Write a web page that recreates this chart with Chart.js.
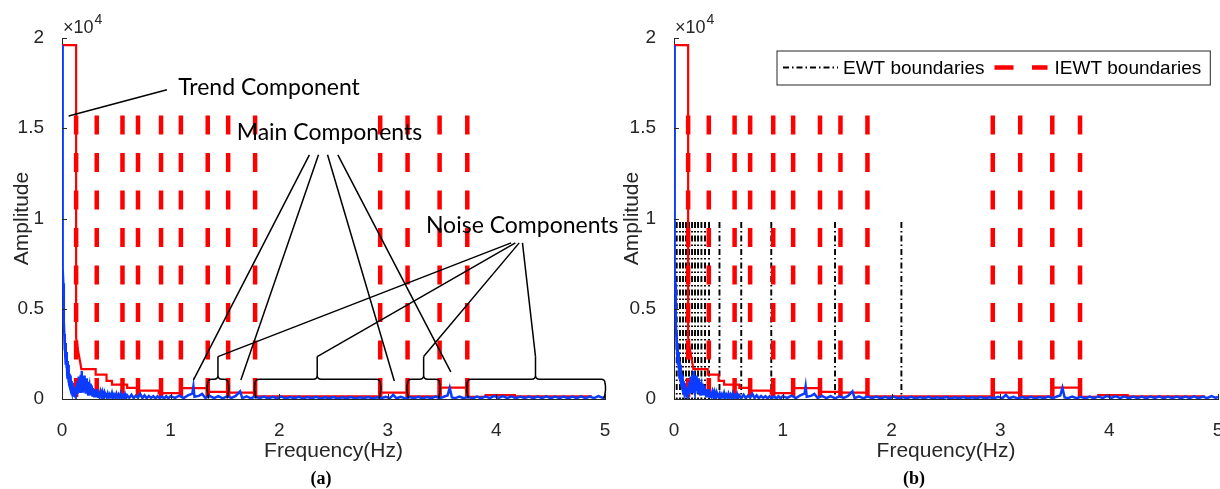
<!DOCTYPE html>
<html>
<head>
<meta charset="utf-8">
<script src="https://cdn.jsdelivr.net/npm/chart.js@4.4.1/dist/chart.umd.min.js"></script>
<style>
  html, body { margin: 0; padding: 0; background: #fff; }
  #wrap { position: relative; width: 1220px; height: 489px; overflow: hidden; }
  .panel { position: absolute; top: 0; height: 489px; }
  #panelA { left: 0; width: 625px; }
  #panelB { left: 610px; width: 610px; }
  .tag { position: absolute; top: 468px; font: bold 18px "Liberation Serif", "Times New Roman", serif; color: #000; transform: translateX(-50%); }
</style>
</head>
<body>
<div id="wrap">
  <div class="panel" id="panelB"><canvas id="chartB"></canvas></div>
  <div class="panel" id="panelA"><canvas id="chartA"></canvas></div>
  <div class="tag" style="left:321px">(a)</div>
  <div class="tag" style="left:914px">(b)</div>
</div>
<script>
// ---- data (frequency in Hz, amplitude raw; axis shows x10^4) ----
const freqTicks = [0, 1, 2, 3, 4, 5];
const ampTicks = [0, 5000, 10000, 15000, 20000];

// blue Fourier spectrum [Hz, amplitude]
const spectrum = [
  [0, 19600], [0.003, 14500], [0.006, 10500], [0.009, 7200], [0.012, 6400], [0.015, 6100],
  [0.018, 4300], [0.021, 3600], [0.024, 2700], [0.027, 3300], [0.030, 2400], [0.033, 3100],
  [0.036, 1900], [0.039, 2600], [0.042, 1700], [0.045, 2300], [0.048, 1300], [0.051, 2100],
  [0.054, 1100], [0.057, 1900], [0.060, 900], [0.063, 1600], [0.066, 800], [0.069, 1400],
  [0.072, 700], [0.075, 1300], [0.078, 550], [0.081, 1150], [0.084, 500], [0.087, 1000],
  [0.090, 400], [0.093, 900], [0.096, 350], [0.100, 800], [0.104, 250], [0.108, 700],
  [0.112, 200], [0.116, 600], [0.120, 150], [0.124, 500], [0.128, 100], [0.132, 350],
  [0.136, 450], [0.140, 900], [0.144, 300], [0.148, 1000], [0.152, 450], [0.156, 1250],
  [0.160, 600], [0.164, 950], [0.168, 400], [0.172, 1350], [0.176, 700], [0.180, 1550],
  [0.184, 500], [0.188, 1100], [0.192, 350], [0.196, 950], [0.200, 600], [0.204, 1300],
  [0.208, 450], [0.212, 1000], [0.216, 300], [0.220, 850], [0.224, 550], [0.228, 1150],
  [0.232, 400], [0.236, 800], [0.240, 250], [0.244, 950], [0.248, 500], [0.252, 700],
  [0.256, 300], [0.260, 850], [0.264, 200], [0.268, 650], [0.272, 400], [0.276, 750],
  [0.280, 200], [0.284, 600], [0.288, 300], [0.292, 550], [0.296, 150], [0.300, 500],
  [0.305, 250], [0.310, 450], [0.315, 150], [0.320, 550], [0.325, 250], [0.330, 400],
  [0.335, 120], [0.340, 380], [0.345, 200], [0.350, 330], [0.355, 100], [0.360, 300],
  [0.365, 180], [0.370, 320], [0.375, 90], [0.380, 260], [0.385, 150], [0.390, 280],
  [0.395, 80], [0.400, 260], [0.41, 110], [0.42, 300], [0.43, 70], [0.44, 250],
  [0.45, 120], [0.46, 330], [0.47, 60], [0.48, 240], [0.49, 100], [0.50, 280],
  [0.51, 50], [0.52, 230], [0.53, 90], [0.54, 300], [0.55, 60], [0.56, 200],
  [0.57, 80], [0.58, 260], [0.59, 40], [0.60, 210], [0.62, 60], [0.64, 230],
  [0.66, 40], [0.68, 190], [0.70, 70], [0.72, 280], [0.74, 50], [0.76, 200],
  [0.78, 40], [0.80, 170], [0.82, 60], [0.84, 160], [0.86, 30], [0.88, 150],
  [0.90, 50], [0.92, 140], [0.94, 30], [0.96, 150], [0.98, 40], [1.00, 160],
  [1.04, 60], [1.08, 180], [1.12, 50], [1.16, 200], [1.20, 300], [1.21, 700],
  [1.22, 120], [1.26, 170], [1.29, 280], [1.32, 60], [1.36, 170], [1.40, 50],
  [1.44, 160], [1.48, 40], [1.52, 150], [1.56, 60], [1.60, 170], [1.64, 420],
  [1.66, 50], [1.70, 150], [1.74, 40], [1.78, 140], [1.82, 50], [1.86, 130],
  [1.90, 30], [1.94, 120], [1.98, 40], [2.02, 130], [2.06, 30], [2.10, 110],
  [2.14, 40], [2.18, 120], [2.22, 30], [2.26, 110], [2.30, 40], [2.34, 120],
  [2.38, 30], [2.42, 100], [2.46, 40], [2.50, 110], [2.54, 30], [2.58, 100],
  [2.62, 40], [2.66, 110], [2.70, 30], [2.74, 100], [2.78, 40], [2.82, 110],
  [2.86, 30], [2.90, 100], [2.94, 40], [2.98, 120], [3.02, 50], [3.05, 230],
  [3.08, 40], [3.12, 120], [3.16, 30], [3.20, 110], [3.24, 40], [3.28, 120],
  [3.32, 30], [3.36, 110], [3.40, 40], [3.44, 130], [3.48, 40], [3.52, 140],
  [3.55, 190], [3.57, 620], [3.59, 90], [3.62, 50], [3.66, 130], [3.70, 40],
  [3.74, 120], [3.78, 30], [3.82, 130], [3.86, 40], [3.90, 150], [3.94, 50],
  [3.98, 170], [4.02, 60], [4.06, 160], [4.10, 50], [4.14, 150], [4.18, 40],
  [4.22, 140], [4.26, 50], [4.30, 130], [4.34, 40], [4.38, 140], [4.42, 50],
  [4.46, 150], [4.50, 40], [4.54, 130], [4.58, 50], [4.62, 140], [4.66, 40],
  [4.70, 130], [4.74, 50], [4.78, 150], [4.82, 40], [4.86, 140], [4.90, 50],
  [4.94, 160], [4.98, 60], [5.00, 120]
];

// red step curve (IEWT band maxima) [Hz, amplitude]
const iewtStep = [
  [0, 19600], [0.13, 19600], [0.13, 3400], [0.15, 2600], [0.17, 1950], [0.178, 1650],
  [0.31, 1650], [0.31, 1350], [0.41, 1350], [0.41, 1000], [0.46, 1000], [0.46, 800],
  [0.60, 800], [0.60, 620], [0.69, 620], [0.69, 460], [0.89, 460], [0.89, 330],
  [1.09, 330], [1.09, 600], [1.34, 600], [1.34, 400], [1.53, 400], [1.53, 350],
  [1.78, 350], [1.78, 150], [2.93, 150], [2.93, 350], [3.18, 350], [3.18, 150],
  [3.475, 150], [3.475, 630], [3.73, 630], [3.73, 120], [3.9, 120], [3.9, 220],
  [4.17, 220], [4.17, 150], [4.88, 150]
];

// boundaries (Hz) and the height of their vertical lines
const iewtBounds = [0.13, 0.32, 0.557, 0.70, 0.912, 1.095, 1.342, 1.53, 1.778, 2.93, 3.182, 3.477, 3.732];
const iewtTop = 15700;
const ewtBounds = [0.025, 0.055, 0.083, 0.11, 0.138, 0.166, 0.193, 0.221, 0.252, 0.285, 0.322, 0.418, 0.618, 0.894, 1.48, 2.09];
const ewtTop = 9800;

// annotations of panel (a), in data units
const trendLine = [[0.061, 15680], [0.966, 17130]];
const mainFrom = [[2.278, 13530], [2.362, 13530], [2.445, 13530], [2.54, 13530]];
const mainTo = [[1.21, 1050], [1.647, 1050], [3.06, 1000], [3.58, 1500]];
const noiseFrom = [[4.136, 8650], [4.175, 8650], [4.21, 8650], [4.24, 8650]];
const noiseBraces = [[1.342, 1.436, 1.53], [1.778, 2.35, 2.93], [3.182, 3.33, 3.477], [3.732, 4.36, 5.0]];
const braceLevel = 1100;
const braceTip = 2350;
const noteLabels = [
  { text: 'Trend Component', x: 1.07, y: 17240 },
  { text: 'Main Components', x: 1.608, y: 14740 },
  { text: 'Noise Components', x: 3.351, y: 9630 }
];

// ---- styles ----
const FONT = '"Liberation Sans", Arial, sans-serif';
const NOTE_FONT = 'Lato, "Open Sans", sans-serif';
const AXIS = '#262626';
const BLUE = '#0b3bff';
const RED = '#ff0000';

function toXY(pairs) {
  return pairs.map(function (p) { return { x: p[0], y: p[1] }; });
}

function buildDatasets(withEWT) {
  const sets = [];
  sets.push({ label: 'Spectrum', data: toXY(spectrum), borderColor: BLUE, borderWidth: 2.5 });
  sets.push({ label: 'IEWT spectrum', data: toXY(iewtStep), borderColor: RED, borderWidth: 2.2 });
  iewtBounds.forEach(function (b, i) {
    sets.push({
      label: 'IEWT boundaries', inLegend: i === 0,
      data: [{ x: b, y: iewtTop }, { x: b, y: 0 }],
      borderColor: RED, borderWidth: 4.5, borderDash: [19, 18.5]
    });
  });
  if (withEWT) {
    ewtBounds.forEach(function (b, i) {
      sets.push({
        label: 'EWT boundaries', inLegend: i === 0,
        data: [{ x: b, y: ewtTop }, { x: b, y: 0 }],
        borderColor: '#000', borderWidth: 1.9, borderDash: [6, 3, 1.5, 3]
      });
    });
  }
  return sets;
}

// inner tick marks and the x10^4 multiplier, MATLAB style
const matlabAxes = {
  id: 'matlabAxes',
  afterDraw: function (chart) {
    const ctx = chart.ctx;
    const xs = chart.scales.x, ys = chart.scales.y;
    const a = chart.chartArea;
    ctx.save();
    ctx.strokeStyle = AXIS;
    ctx.lineWidth = 1;
    ctx.beginPath();
    xs.ticks.forEach(function (t) {
      const px = Math.round(xs.getPixelForValue(t.value)) + 0.5;
      ctx.moveTo(px, a.bottom);
      ctx.lineTo(px, a.bottom - 5);
    });
    ys.ticks.forEach(function (t) {
      const py = Math.round(ys.getPixelForValue(t.value)) + 0.5;
      ctx.moveTo(a.left, py);
      ctx.lineTo(a.left + 5, py);
    });
    ctx.stroke();
    ctx.fillStyle = AXIS;
    ctx.textBaseline = 'alphabetic';
    ctx.textAlign = 'left';
    ctx.font = '18px ' + FONT;
    ctx.fillText('\u00d710', a.left + 1, a.top - 5);
    const w = ctx.measureText('\u00d710').width;
    ctx.font = '14px ' + FONT;
    ctx.fillText('4', a.left + 2 + w, a.top - 14);
    ctx.restore();
  }
};

function drawBrace(ctx, xl, xm, xr, yb, yl, yt) {
  const r = 4;
  ctx.beginPath();
  ctx.moveTo(xl + 1, yb);
  ctx.quadraticCurveTo(xl - 1.5, (yl + yb) / 2, xl, yl + r);
  ctx.quadraticCurveTo(xl, yl, xl + r, yl);
  ctx.lineTo(xm - r, yl);
  ctx.quadraticCurveTo(xm, yl, xm, yl - r);
  ctx.lineTo(xm, yt);
  ctx.moveTo(xm, yl - r);
  ctx.quadraticCurveTo(xm, yl, xm + r, yl);
  ctx.lineTo(xr - r, yl);
  ctx.quadraticCurveTo(xr, yl, xr, yl + r);
  ctx.quadraticCurveTo(xr + 1.5, (yl + yb) / 2, xr - 1, yb);
  ctx.stroke();
}

// text notes, pointer lines and braces of panel (a)
const notes = {
  id: 'notes',
  afterDraw: function (chart) {
    if (!chart.options.plugins.notes.show) return;
    const ctx = chart.ctx;
    const xs = chart.scales.x, ys = chart.scales.y;
    function px(v) { return xs.getPixelForValue(v); }
    function py(v) { return ys.getPixelForValue(v); }
    ctx.save();
    ctx.strokeStyle = '#000';
    ctx.lineWidth = 1.5;
    ctx.beginPath();
    ctx.moveTo(px(trendLine[0][0]), py(trendLine[0][1]));
    ctx.lineTo(px(trendLine[1][0]), py(trendLine[1][1]));
    mainFrom.forEach(function (f, i) {
      ctx.moveTo(px(f[0]), py(f[1]));
      ctx.lineTo(px(mainTo[i][0]), py(mainTo[i][1]));
    });
    noiseFrom.forEach(function (f, i) {
      ctx.moveTo(px(f[0]), py(f[1]));
      ctx.lineTo(px(noiseBraces[i][1]), py(braceTip));
    });
    ctx.stroke();
    noiseBraces.forEach(function (b) {
      drawBrace(ctx, px(b[0]), px(b[1]), px(b[2]), py(0) - 0.5, py(braceLevel), py(braceTip));
    });
    ctx.fillStyle = '#000';
    ctx.font = '23px ' + NOTE_FONT;
    ctx.textAlign = 'left';
    ctx.textBaseline = 'middle';
    noteLabels.forEach(function (n) {
      ctx.fillText(n.text, px(n.x), py(n.y));
    });
    ctx.restore();
  }
};

// boxed legend of panel (b), built from the flagged datasets
const boxLegend = {
  id: 'boxLegend',
  afterDraw: function (chart) {
    const opt = chart.options.plugins.boxLegend;
    if (!opt.show) return;
    const ctx = chart.ctx;
    const entries = ['EWT boundaries', 'IEWT boundaries'].map(function (name) {
      return chart.data.datasets.find(function (d) { return d.label === name && d.inLegend; });
    });
    ctx.save();
    ctx.font = '19px ' + FONT;
    let x = opt.left + 6.5;
    const y = opt.top + opt.height / 2;
    const parts = [];
    entries.forEach(function (d, i) {
      const sample = i === 0 ? 55 : 53;
      parts.push({ d: d, x0: x, x1: x + sample });
      x += sample + (i === 0 ? 5 : 7);
      parts[i].tx = x;
      x += ctx.measureText(d.label).width + 10;
    });
    const right = x - 10 + 8.5;
    ctx.fillStyle = '#fff';
    ctx.fillRect(opt.left, opt.top, right - opt.left, opt.height);
    ctx.strokeStyle = AXIS;
    ctx.lineWidth = 1;
    ctx.strokeRect(opt.left + 0.5, opt.top + 0.5, right - opt.left, opt.height);
    parts.forEach(function (p) {
      ctx.beginPath();
      ctx.strokeStyle = p.d.borderColor;
      ctx.lineWidth = p.d.borderWidth;
      ctx.setLineDash(p.d.borderDash);
      ctx.moveTo(p.x0, y);
      ctx.lineTo(p.x1, y);
      ctx.stroke();
      ctx.setLineDash([]);
      ctx.fillStyle = '#000';
      ctx.textAlign = 'left';
      ctx.textBaseline = 'middle';
      ctx.fillText(p.d.label, p.tx, y + 1);
    });
    ctx.restore();
  }
};

function makeChart(id, cfg) {
  return new Chart(document.getElementById(id), {
    type: 'line',
    data: { datasets: buildDatasets(cfg.ewt) },
    plugins: [matlabAxes, notes, boxLegend],
    options: {
      responsive: true,
      maintainAspectRatio: false,
      animation: false,
      events: [],
      elements: { point: { radius: 0 }, line: { tension: 0, fill: false, borderCapStyle: 'butt' } },
      layout: { padding: { left: 0, top: 38, right: cfg.padRight, bottom: 20 } },
      plugins: {
        legend: { display: false },
        tooltip: { enabled: false },
        notes: { show: cfg.notes },
        boxLegend: { show: cfg.ewt, left: 166.5, top: 50.5, height: 34 }
      },
      scales: {
        x: {
          type: 'linear', min: 0, max: 5,
          grid: { display: false },
          border: { display: true, color: AXIS, width: 1 },
          afterBuildTicks: function (s) { s.ticks = freqTicks.map(function (v) { return { value: v }; }); },
          ticks: { color: AXIS, font: { family: FONT, size: 19 }, padding: 12, maxRotation: 0, autoSkip: false },
          title: { display: true, text: 'Frequency(Hz)', color: AXIS, font: { family: FONT, size: 21 }, padding: { top: 0, bottom: 5 } },
          afterFit: function (s) { s.height = 70; s.paddingLeft = 0; s.paddingRight = 0; }
        },
        y: {
          type: 'linear', min: 0, max: 20000,
          grid: { display: false },
          border: { display: true, color: AXIS, width: 1 },
          afterBuildTicks: function (s) { s.ticks = ampTicks.map(function (v) { return { value: v }; }); },
          ticks: { color: AXIS, font: { family: FONT, size: 19 }, padding: 10, callback: function (v) { return String(v / 10000); } },
          title: { display: true, text: 'Amplitude', color: AXIS, font: { family: FONT, size: 21 }, padding: { top: 10, bottom: 0 } },
          afterFit: function (s) { s.width = cfg.yWidth; s.paddingTop = 0; s.paddingBottom = 0; }
        }
      }
    }
  });
}

makeChart('chartA', { ewt: false, notes: true, yWidth: 62, padRight: 20 });
makeChart('chartB', { ewt: true, notes: false, yWidth: 64, padRight: 2 });
</script>
</body>
</html>
